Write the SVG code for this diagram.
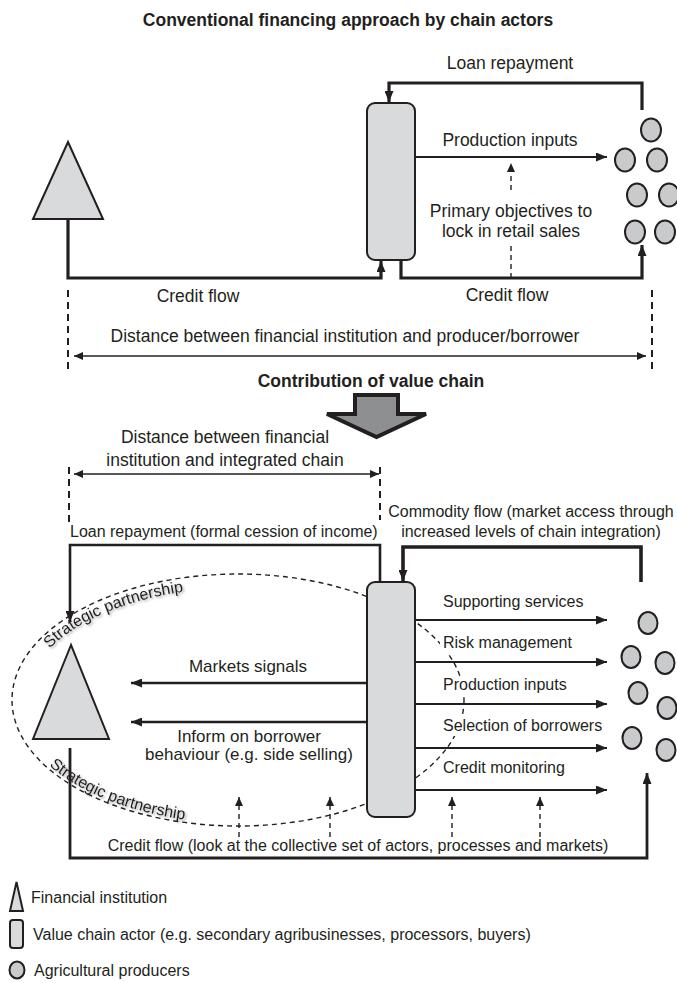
<svg xmlns="http://www.w3.org/2000/svg" width="677" height="983" viewBox="0 0 677 983">
<style>
text{font-family:"Liberation Sans",Arial,sans-serif;fill:#231f20}
.big{font-size:17.5px}
.mid{font-size:16px}
.lab{font-size:17px}
.leg{font-size:16px}
.ttl{font-size:17.5px;font-weight:bold;text-anchor:middle}
.c{text-anchor:middle}
.node{fill:#d9dadb;stroke:#231f20;stroke-width:2}
.prod{fill:#c9cacc;stroke:#231f20;stroke-width:2}
.flow{fill:none;stroke:#231f20;stroke-linejoin:miter}
.w3{stroke-width:3.2}
.w25{stroke-width:2.6}
.w2{stroke-width:2}
.dash{fill:none;stroke:#231f20;stroke-width:1.4;stroke-dasharray:5 4}
.guide{fill:none;stroke:#231f20;stroke-width:2;stroke-dasharray:7 5}
.sp{font-size:16px;filter:url(#shadow)}
.bg{fill:#fff}
</style>
<defs>
<marker id="ah" viewBox="0 0 11 9" refX="11" refY="4.5" markerWidth="11" markerHeight="9" markerUnits="userSpaceOnUse" orient="auto-start-reverse"><path d="M0,0 L11,4.5 L0,9 z" fill="#231f20"/></marker>
<marker id="as" viewBox="0 0 9 8" refX="9" refY="4" markerWidth="9" markerHeight="8" markerUnits="userSpaceOnUse" orient="auto-start-reverse"><path d="M0,0 L9,4 L0,8 z" fill="#231f20"/></marker>
<filter id="shadow" x="-10%" y="-40%" width="130%" height="190%"><feDropShadow dx="1.5" dy="1.5" stdDeviation="1.2" flood-color="#000" flood-opacity="0.35"/></filter>
<path id="arcTop" d="M26,700 A212,112 0 0 1 238,588 A212,112 0 0 1 450,700"/>
<path id="arcBot" d="M15,700 A223,123 0 0 0 238,823 A223,123 0 0 0 461,700"/>
</defs>

<!-- headings -->
<text class="ttl" x="348" y="26">Conventional financing approach by chain actors</text>
<text class="ttl" x="371" y="387">Contribution of value chain</text>

<!-- upper scheme: distance guides -->
<g id="guides-top">
<path class="guide" d="M68,290 V372 M652,290 V372"/>
<path class="flow" stroke-width="1.6" d="M74,356 H646" marker-start="url(#as)" marker-end="url(#as)"/>
<text class="big c" x="345" y="342">Distance between financial institution and producer/borrower</text>
</g>

<!-- upper scheme: connectors -->
<g id="connectors-top">
<path class="flow w3" d="M68,219 V278 H381 V261" marker-end="url(#ah)"/>
<path class="flow w3" d="M401,261 V278 H642 V245" marker-end="url(#ah)"/>
<path class="flow w3" d="M642,110 V83 H389 V102" marker-end="url(#ah)"/>
<path class="flow w2" d="M416,157 H607" marker-end="url(#ah)"/>
<path class="dash" d="M511,278 V246"/>
<path class="dash" d="M511,190 V163" marker-end="url(#as)"/>
<text class="big c" x="510" y="69">Loan repayment</text>
<text class="big c" x="510" y="146">Production inputs</text>
<text class="big c" x="511" y="217">Primary objectives to</text>
<text class="big c" x="511" y="237">lock in retail sales</text>
<text class="big c" x="198" y="302">Credit flow</text>
<text class="big c" x="507" y="301">Credit flow</text>
</g>

<!-- upper scheme: nodes -->
<g id="fi-top"><polygon class="node" points="68,142 33,219 103,219"/></g>
<g id="vca-top"><rect class="node" x="367" y="103" width="48" height="157" rx="8"/></g>
<g id="producers-top">
<ellipse class="prod" cx="651" cy="130" rx="10" ry="11.5"/>
<ellipse class="prod" cx="625" cy="160" rx="10" ry="11.5"/>
<ellipse class="prod" cx="657" cy="160" rx="10" ry="11.5"/>
<ellipse class="prod" cx="637" cy="195" rx="10" ry="11.5"/>
<ellipse class="prod" cx="669" cy="195" rx="10" ry="11.5"/>
<ellipse class="prod" cx="635" cy="232" rx="10" ry="11.5"/>
<ellipse class="prod" cx="665" cy="232" rx="10" ry="11.5"/>
</g>

<!-- transition arrow -->
<g id="transition"><polygon points="355,395 398,395 398,414 426,414 376.5,437 327,414 355,414" fill="#8e8f91" stroke="#231f20" stroke-width="4" stroke-linejoin="miter"/></g>

<!-- lower scheme: distance guides -->
<g id="guides-bottom">
<path class="guide" d="M69,467 V523 M380,467 V520"/>
<path class="flow" stroke-width="1.6" d="M74,474 H379" marker-start="url(#as)" marker-end="url(#as)"/>
<text class="big c" x="225" y="443">Distance between financial</text>
<text class="big c" x="225" y="466">institution and integrated chain</text>
</g>

<!-- lower scheme: partnership boundary -->
<g id="partnership">
<ellipse class="dash" cx="238" cy="700" rx="226" ry="126"/>
<text class="sp"><textPath href="#arcTop" startOffset="58">Strategic partnership</textPath></text>
<text class="sp"><textPath href="#arcBot" startOffset="76">Strategic partnership</textPath></text>
</g>

<!-- lower scheme: connectors -->
<g id="connectors-bottom">
<path class="flow w25" d="M380,581 V545 H70 V622" marker-end="url(#ah)"/>
<path class="flow" stroke-width="3.6" d="M641,582 V547 H403 V581" marker-end="url(#ah)"/>
<path class="flow w2" d="M416,620 H607" marker-end="url(#ah)"/>
<path class="flow w2" d="M416,662 H607" marker-end="url(#ah)"/>
<path class="flow w2" d="M416,704 H607" marker-end="url(#ah)"/>
<path class="flow w2" d="M416,748 H607" marker-end="url(#ah)"/>
<path class="flow w2" d="M416,790 H607" marker-end="url(#ah)"/>
<path class="flow w25" d="M366,683 H131" marker-end="url(#ah)"/>
<path class="flow w25" d="M366,722 H131" marker-end="url(#ah)"/>
<path class="flow" stroke-width="2.8" d="M70,748 V858 H647 V773" marker-end="url(#ah)"/>
<path class="dash" d="M239,837 V797" marker-end="url(#as)"/>
<path class="dash" d="M330,837 V797" marker-end="url(#as)"/>
<path class="dash" d="M452,837 V797" marker-end="url(#as)"/>
<path class="dash" d="M540,837 V797" marker-end="url(#as)"/>
<text class="mid" x="70" y="537">Loan repayment (formal cession of income)</text>
<text class="mid c" x="531" y="517">Commodity flow (market access through</text>
<text class="mid c" x="531" y="537">increased levels of chain integration)</text>
<rect class="bg" x="440" y="593" width="146" height="19"/>
<rect class="bg" x="440" y="634" width="136" height="19"/>
<rect class="bg" x="440" y="676" width="130" height="19"/>
<rect class="bg" x="440" y="717" width="165" height="19"/>
<rect class="bg" x="440" y="759" width="128" height="19"/>
<text class="mid" x="443" y="607">Supporting services</text>
<text class="mid" x="443" y="648">Risk management</text>
<text class="mid" x="443" y="690">Production inputs</text>
<text class="mid" x="443" y="731">Selection of borrowers</text>
<text class="mid" x="443" y="773">Credit monitoring</text>
<text class="lab c" x="248" y="672">Markets signals</text>
<text class="lab c" x="249" y="742">Inform on borrower</text>
<text class="lab c" x="249" y="760">behaviour (e.g. side selling)</text>
<text class="mid c" x="358" y="851">Credit flow (look at the collective set of actors, processes and markets)</text>
</g>

<!-- lower scheme: nodes -->
<g id="fi-bottom"><polygon class="node" points="71,645 33,739 109,739"/></g>
<g id="vca-bottom"><rect class="node" x="367" y="582" width="48" height="235" rx="8"/></g>
<g id="producers-bottom">
<ellipse class="prod" cx="648" cy="623" rx="9.5" ry="11"/>
<ellipse class="prod" cx="631" cy="657" rx="9.5" ry="11"/>
<ellipse class="prod" cx="665" cy="663" rx="9.5" ry="11"/>
<ellipse class="prod" cx="638" cy="693" rx="9.5" ry="11"/>
<ellipse class="prod" cx="667" cy="708" rx="9.5" ry="11"/>
<ellipse class="prod" cx="632" cy="738" rx="9.5" ry="11"/>
<ellipse class="prod" cx="666" cy="750" rx="9.5" ry="11"/>
</g>

<!-- legend -->
<g id="legend-fi">
<polygon class="node" stroke-width="1.6" points="16.5,882 10,911 23,911"/>
<text class="leg" x="31" y="903">Financial institution</text>
</g>
<g id="legend-vca">
<rect class="node" stroke-width="1.6" x="10" y="920" width="13" height="28" rx="3"/>
<text class="leg" x="33" y="940">Value chain actor (e.g. secondary agribusinesses, processors, buyers)</text>
</g>
<g id="legend-producers">
<ellipse class="prod" stroke-width="1.6" cx="17" cy="970" rx="7.5" ry="8.5"/>
<text class="leg" x="34" y="976">Agricultural producers</text>
</g>
</svg>
